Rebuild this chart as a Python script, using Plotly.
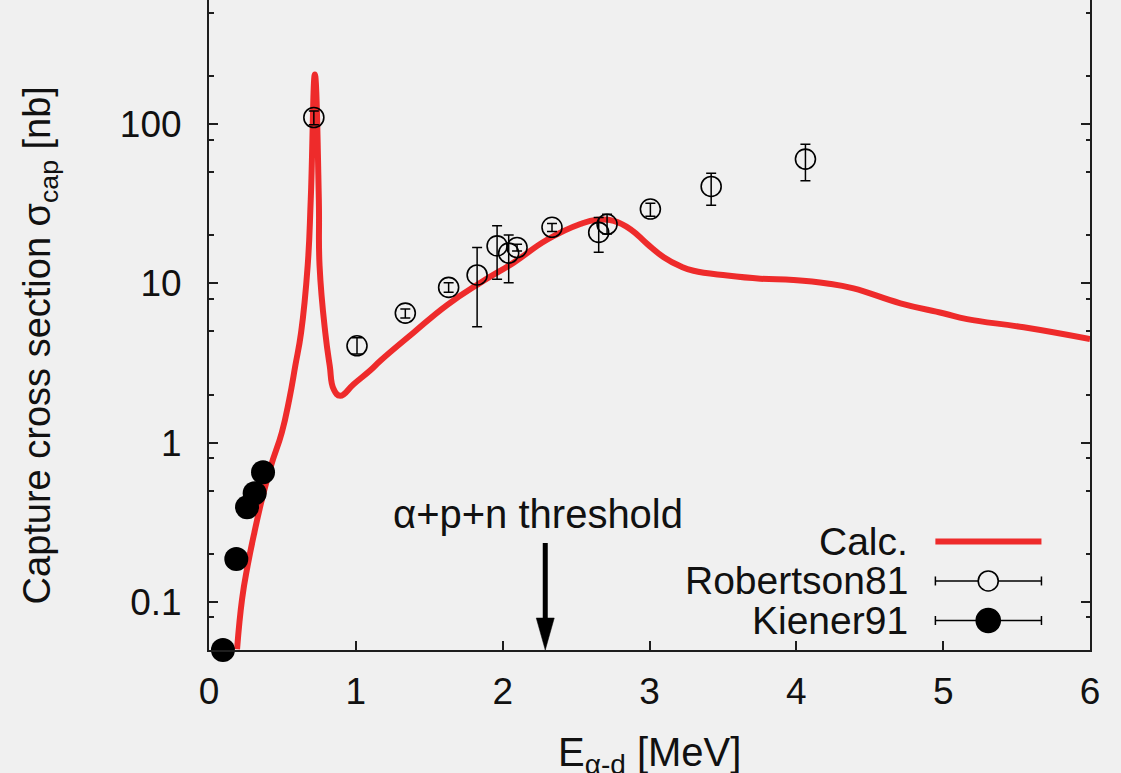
import plotly.graph_objects as go

# Calculated capture cross section (E in MeV, sigma in nb)
calc_e = [0.191, 0.225, 0.263, 0.309, 0.361, 0.422, 0.496, 0.547, 0.588, 0.627,
          0.672, 0.693, 0.721, 0.748, 0.753, 0.792, 0.822, 0.849, 0.894, 0.985,
          1.099, 1.167, 1.394, 1.621, 1.848, 2.075, 2.302, 2.529, 2.643, 2.756,
          2.870, 2.984, 3.097, 3.211, 3.30, 3.53, 3.755, 3.98, 4.21, 4.39,
          4.709, 5.0, 5.163, 5.549, 6.0]
calc_sigma = [0.0506, 0.104, 0.169, 0.273, 0.443, 0.716, 1.16, 1.88, 3.05, 4.9,
              12.9, 33.8, 205.0, 33.8, 12.9, 4.9, 3.05, 2.17, 1.97, 2.33,
              2.85, 3.27, 4.92, 7.31, 10.1, 13.5, 18.8, 23.6, 25.1, 24.7,
              21.9, 17.7, 14.6, 12.8, 12.0, 11.2, 10.7, 10.5, 10.0, 9.3,
              7.5, 6.5, 5.97, 5.30, 4.47]

# Robertson81 measurements
rob_e = [0.714, 1.008, 1.337, 1.632, 1.826, 1.962, 2.041, 2.098, 2.336, 2.654,
         2.711, 3.006, 3.42, 4.062]
rob_sigma = [110, 4.06, 6.51, 9.44, 11.3, 17.2, 15.5, 16.8, 22.5, 20.9,
             23.5, 29.3, 40.6, 60.3]
rob_err_plus = [11, 0.5, 0.4, 0.65, 5.5, 5.8, 4.6, 0.8, 1.3, 5.0,
                3.7, 2.6, 8.5, 14.5]
rob_err_minus = [11, 0.46, 0.45, 0.65, 5.95, 6.6, 5.4, 0.8, 1.3, 5.2,
                 3.1, 2.9, 9.6, 16.2]

# Kiener91 measurements
kie_e = [0.095, 0.186, 0.259, 0.311, 0.368]
kie_sigma = [0.05, 0.186, 0.393, 0.481, 0.652]

# Axis ticks
x_ticks = [0, 1, 2, 3, 4, 5, 6]
y_ticks = [0.1, 1, 10, 100]
y_tick_text = ["0.1", "1", "10", "100"]
y_minor = [0.08, 0.2, 0.5, 0.8, 2, 5, 8, 20, 50, 80, 200, 500]

threshold_e = 2.29

FONT = "Liberation Sans, Arial, Helvetica, sans-serif"
RED = "#ee2b2b"
BG = "#f0f0f0"
AX = "#1e1e1e"

fig = go.Figure()

fig.add_trace(go.Scatter(
    x=calc_e, y=calc_sigma, mode="lines",
    line=dict(color=RED, width=6, shape="spline", smoothing=1.3),
    showlegend=False, hoverinfo="skip"))

fig.add_trace(go.Scatter(
    x=rob_e, y=rob_sigma, mode="markers",
    marker=dict(symbol="circle-open", size=20, color="black",
                line=dict(width=1.6, color="black")),
    error_y=dict(type="data", symmetric=False, array=rob_err_plus,
                 arrayminus=rob_err_minus, color="black", thickness=1.5, width=5),
    showlegend=False, cliponaxis=False))

fig.add_trace(go.Scatter(
    x=kie_e, y=kie_sigma, mode="markers",
    marker=dict(symbol="circle", size=24, color="black"),
    showlegend=False, cliponaxis=False))

# empty trace so the mirrored right axis is drawn
fig.add_trace(go.Scatter(x=[None], y=[None], yaxis="y2", showlegend=False))

y_range = [-1.3012, 2.779]
common_y = dict(
    type="log", range=y_range, tickvals=y_ticks, ticks="inside", ticklen=9,
    tickwidth=1.6, tickcolor=AX, showline=True, linecolor=AX, linewidth=2,
    showgrid=False, zeroline=False,
    minor=dict(tickvals=y_minor, ticks="inside", ticklen=4.5, tickwidth=1.6,
               tickcolor=AX, showgrid=False))

fig.update_layout(
    width=1121, height=773, autosize=False,
    margin=dict(l=209, r=31, t=0, b=123),
    paper_bgcolor=BG, plot_bgcolor=BG,
    font=dict(family=FONT, size=37, color="#111111"),
    xaxis=dict(range=[0, 6], tickvals=x_ticks, ticks="inside", ticklen=9,
               tickwidth=1.6, tickcolor=AX, showline=True, linecolor=AX,
               linewidth=2, showgrid=False, zeroline=False, mirror=False,
               ticklabelstandoff=8, tickfont=dict(size=37)),
    yaxis=dict(**common_y, ticktext=y_tick_text, ticklabelstandoff=18,
               tickfont=dict(size=37)),
    yaxis2=dict(**common_y, overlaying="y", side="right", showticklabels=False),
)

# axis titles
fig.add_annotation(text="E<sub>α-d</sub> [MeV]", xref="paper", yref="paper",
                   x=0.5, y=-0.162, showarrow=False, xanchor="center",
                   yanchor="middle", font=dict(size=40))
fig.add_annotation(text="Capture cross section σ<sub>cap</sub> [nb]",
                   xref="paper", yref="paper", x=-0.1915, y=0.469,
                   textangle=-90, showarrow=False, xanchor="center",
                   yanchor="middle", font=dict(size=38))

# threshold arrow: shaft and head anchored at the threshold energy on the x axis
fig.add_shape(type="line", xref="x", yref="paper", xsizemode="pixel",
              ysizemode="pixel", xanchor=threshold_e, yanchor=0,
              x0=0, x1=0, y0=28, y1=107, line=dict(color="black", width=5))
fig.add_shape(type="path", xref="x", yref="paper", xsizemode="pixel",
              ysizemode="pixel", xanchor=threshold_e, yanchor=0,
              path="M0,0 L-9,32 L9,32 Z", fillcolor="black",
              line=dict(color="black", width=0.5))
fig.add_annotation(text="α+p+n threshold", x=threshold_e - 0.05, y=-0.448,
                   xref="x", yref="y", showarrow=False, xanchor="center",
                   yanchor="middle", font=dict(size=40))

# legend
leg_text_x = 0.796
leg_rows = [0.1669, 0.1062, 0.0454]
leg_labels = ["Calc.", "Robertson81", "Kiener91"]
for lbl, yy in zip(leg_labels, leg_rows):
    fig.add_annotation(text=lbl, xref="paper", yref="paper", x=leg_text_x, y=yy,
                       xanchor="right", yanchor="middle", showarrow=False,
                       font=dict(size=39))

kx0, kx1, kxc = 0.8245, 0.9449, 0.8845
fig.add_shape(type="line", xref="paper", yref="paper", x0=kx0, x1=kx1,
              y0=leg_rows[0], y1=leg_rows[0], line=dict(color=RED, width=6))
for yy, filled in [(leg_rows[1], False), (leg_rows[2], True)]:
    fig.add_shape(type="line", xref="paper", yref="paper", x0=kx0, x1=kx1,
                  y0=yy, y1=yy, line=dict(color="black", width=1.5))
    for xe in (kx0, kx1):
        fig.add_shape(type="line", xref="paper", yref="paper", x0=xe, x1=xe,
                      ysizemode="pixel", yanchor=yy, y0=-4.5, y1=4.5,
                      line=dict(color="black", width=1.5))
    r = 12 if filled else 10
    fig.add_shape(type="circle", xref="paper", yref="paper",
                  xsizemode="pixel", ysizemode="pixel", xanchor=kxc, yanchor=yy,
                  x0=-r, x1=r, y0=-r, y1=r,
                  fillcolor="black" if filled else BG,
                  line=dict(color="black", width=1.6))

fig.write_html("out.html")
